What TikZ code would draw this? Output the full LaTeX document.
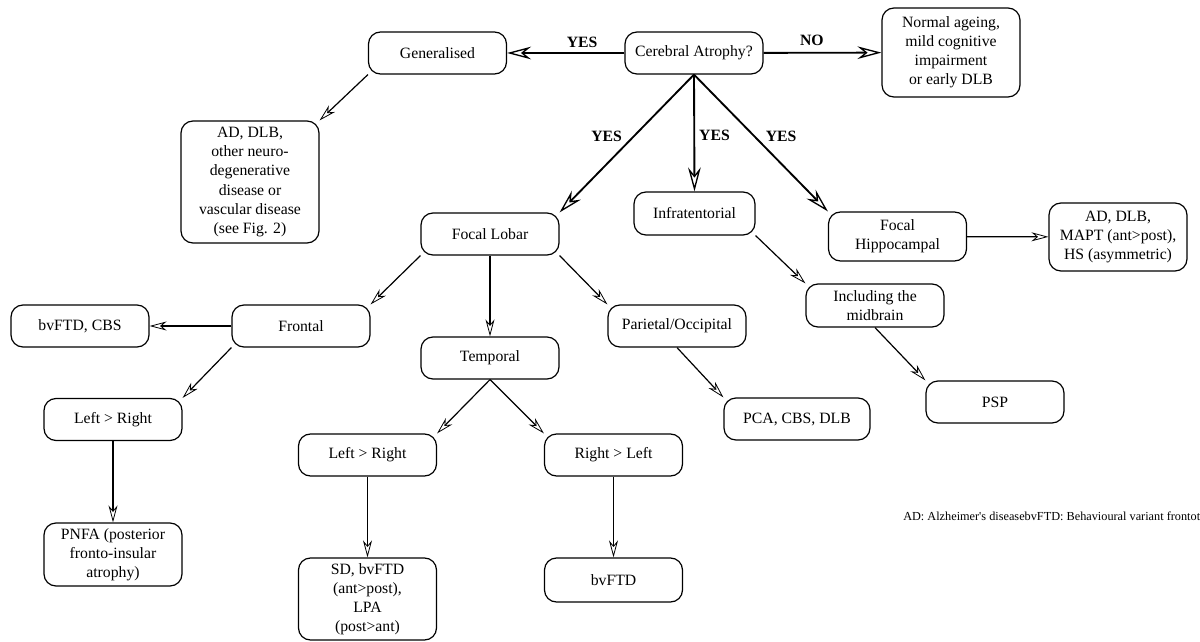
\documentclass[tikz,border=0pt]{standalone}
\usepackage{fontspec}
\setmainfont{LiberationSerif}[Extension=.ttf,
  UprightFont=*-Regular, BoldFont=*-Bold,
  ItalicFont=*-Italic, BoldItalicFont=*-BoldItalic]
\usetikzlibrary{arrows.meta}
\tikzset{
    % Basic decision box (rounded)
    box/.style={
        draw, rounded corners=9pt, line width=0.9pt,
        minimum width=103.5pt, minimum height=31.5pt,
        align=center, inner sep=2pt,
        font=\rmfamily\fontsize{11.8}{14.3}\selectfont
    },
    % Wider / narrower variants
    widebox/.style={box, minimum width=109.5pt},
    narrowbox/.style={box, minimum width=90.75pt},
}
\tikzset{
    % Main branches out of the root question
    mainedge/.style={line width=1.4pt,
        -{Stealth[open,length=18pt,width=9.5pt,inset=6pt,line width=1pt]}},
    % Ordinary arrows
    subedge/.style={line width=0.9pt,
        -{Stealth[open,length=12.75pt,width=6.75pt,inset=4pt,line width=0.6pt]}},
    % Edge answers
    answer/.style={font=\rmfamily\fontsize{11.8}{14}\selectfont\bfseries, inner sep=2pt},
    footnote/.style={font=\rmfamily\fontsize{9.2}{11}\selectfont, anchor=west, inner sep=0pt}
}
\begin{document}
\begin{tikzpicture}[x=0.75pt,y=-0.75pt]
  \useasboundingbox (0,0) rectangle (1200,642);
  \clip (0,0) rectangle (1200,642);
  % top row
  \node[box] (root) at (694,53) {Cerebral Atrophy?};
  \node[box] (gen) at (437.5,53) {Generalised};
  \node[box, minimum height=66.75pt] (normal) at (951,52.5)
    {Normal ageing,\\mild cognitive\\impairment\\or early DLB};
  \node[box, minimum height=91.5pt] (genres) at (250,182)
    {AD, DLB,\\other neuro-\\degenerative\\disease or\\vascular disease\\(see Fig. 2)};
  % second row
  \node[narrowbox, minimum height=32.25pt] (infra) at (694.5,213.5) {Infratentorial};
  \node[box] (lobar) at (490,234) {Focal Lobar};
  \node[box, minimum height=36.75pt] (hippo) at (897.5,236.5) {Focal\\Hippocampal};
  \node[box, minimum height=51pt] (hipres) at (1118,237)
    {AD, DLB,\\MAPT (ant>post),\\HS (asymmetric)};
  \node[box, minimum height=32.25pt] (midbrain) at (875,305.5) {Including the\\midbrain};
  % lobes
  \node[box] (frontal) at (301,326) {Frontal};
  \node[box] (frontres) at (80,326) {bvFTD, CBS};
  \node[box] (parietal) at (677,326) {Parietal/Occipital};
  \node[box] (temporal) at (490,358) {Temporal};
  \node[box] (frontlr) at (113,419.5) {Left > Right};
  \node[box, minimum height=47.25pt] (pnfa) at (113,554.5)
    {PNFA (posterior\\fronto-insular\\atrophy)};
  \node[box] (templr) at (367.5,455) {Left > Right};
  \node[box] (temprl) at (613.5,455) {Right > Left};
  \node[box, minimum height=61.5pt] (sd) at (367.5,599)
    {SD, bvFTD\\(ant>post),\\LPA\\(post>ant)};
  \node[box, minimum height=33pt] (bvftd) at (613.5,580) {bvFTD};
  \node[widebox] (pca) at (797,419) {PCA, CBS, DLB};
  \node[box] (psp) at (995,402) {PSP};
  \node[footnote] (abbrev) at (903,516)
    {AD: Alzheimer\textquotesingle s diseasebvFTD: Behavioural variant frontot};
  % root branches
  \draw[mainedge] (root) -- (gen) node[answer,pos=0.36,above=1pt]{YES};
  \draw[mainedge] (root) -- (normal) node[answer,pos=0.41,above=3pt]{NO};
  \draw[mainedge] (root.south) -- (lobar.north east) node[answer,pos=0.45,left=6pt]{YES};
  \draw[mainedge] (root.south) -- (infra.north) node[answer,pos=0.52,right=1pt]{YES};
  \draw[mainedge] (root.south) -- (hippo.north west) node[answer,pos=0.45,right=6pt]{YES};
  % further arrows
  \draw[subedge] (gen.south west) -- (genres.north east);
  \draw[subedge] (lobar.south west) -- (frontal.north east);
  \draw[subedge] (lobar) -- (temporal);
  \draw[subedge] (lobar.south east) -- (parietal.north west);
  \draw[subedge] (infra.south east) -- (midbrain.north west);
  \draw[subedge] (midbrain.south) -- (psp.north west);
  \draw[subedge] (hippo) -- (hipres);
  \draw[subedge] (frontal) -- (frontres);
  \draw[subedge] (frontal.south west) -- (frontlr.north east);
  \draw[subedge] (frontlr) -- (pnfa);
  \draw[subedge] (parietal.south) -- (pca.north west);
  \draw[subedge] (temporal.south) -- (templr.north east);
  \draw[subedge] (temporal.south) -- (temprl.north west);
  \draw[subedge] (templr) -- (sd);
  \draw[subedge] (temprl) -- (bvftd);
\end{tikzpicture}
\end{document}
